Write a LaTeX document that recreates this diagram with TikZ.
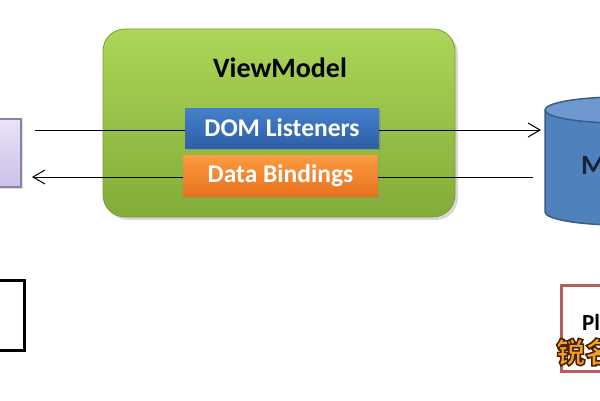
\documentclass[tikz,border=0pt]{standalone}
\usepackage{fontspec}
\setmainfont{Carlito}
\newfontfamily\cjkfont{Noto Sans CJK SC}
\usetikzlibrary{arrows.meta,shadows,positioning}
\definecolor{vmtop}{HTML}{ABD657}
\definecolor{vmbot}{HTML}{82AC38}
\definecolor{vmedge}{HTML}{7A9E36}
\definecolor{domtop}{HTML}{4580CC}
\definecolor{dombot}{HTML}{2E5FA6}
\definecolor{dbtop}{HTML}{FB9B42}
\definecolor{dbbot}{HTML}{E8721E}
\definecolor{viewtop}{HTML}{EAE3F5}
\definecolor{viewbot}{HTML}{CDBFEA}
\definecolor{viewedge}{HTML}{8B80A6}
\definecolor{cylfill}{HTML}{4F81BD}
\definecolor{cyltop}{HTML}{6E98CF}
\definecolor{cyledge}{HTML}{385D8A}
\definecolor{redge}{HTML}{B95F5B}
\definecolor{wmfill}{HTML}{F3A224}
\definecolor{modeltext}{HTML}{1A2238}
\tikzset{
  lbl/.style={font=\bfseries\fontsize{25.5}{30}\selectfont, text=white, inner sep=0pt},
  innerbox/.style={minimum width=194pt, minimum height=40pt, inner sep=0pt,
    drop shadow={opacity=0.35, shadow xshift=1.5pt, shadow yshift=-1.5pt}},
  conn/.style={line width=1pt, black},
  tip/.style={-{Straight Barb[length=12pt,width=14pt,line width=1pt]}},
}
\newcommand{\outlinetext}[1]{\special{pdf:code 2 Tr 1.6 w 0.29 0.13 0 RG}#1\special{pdf:code 0 Tr}}
\begin{document}
\begin{tikzpicture}[x=1pt,y=1pt]
\useasboundingbox (0,0) rectangle (600,400);
\clip (0,0) rectangle (600,400);
\fill[white] (0,0) rectangle (600,400);

% ViewModel container
\node (vm) [draw=vmedge, line width=0.8pt, rounded corners=22pt, top color=vmtop, bottom color=vmbot,
  minimum width=352pt, minimum height=188pt, inner sep=0pt,
  drop shadow={opacity=0.3, shadow xshift=3pt, shadow yshift=-3pt}] at (279,277) {};
\node (vmlabel) [font=\bfseries\fontsize{28}{32}\selectfont, text=black, inner sep=0pt] at (280,332) {ViewModel};

% inner boxes
\node (dom) [innerbox, top color=domtop, bottom color=dombot] at (282,272) {};
\node (domlabel) [lbl] at (282,272) {DOM Listeners};
\node (db) [innerbox, top color=dbtop, bottom color=dbbot, minimum height=41pt] at (280.5,224.5) {};
\node (dblabel) [lbl] at (280.5,224.5) {Data Bindings};

% View (left, lavender)
\node (view) [draw=viewedge, line width=1.2pt, top color=viewtop, bottom color=viewbot,
  minimum width=32pt, minimum height=68pt, inner sep=0pt,
  drop shadow={opacity=0.25, shadow xshift=2pt, shadow yshift=-2pt}] at (5,247) {};

% black box (left, lower)
\node (blk) [draw=black, line width=3pt, fill=white, minimum width=34pt, minimum height=70pt, inner sep=0pt] at (7,84.5) {};

% Model cylinder
\fill[cylfill] (545,290) -- (545,188) arc[start angle=180, end angle=360, x radius=75pt, y radius=13pt] -- (695,290) -- cycle;
\draw[cyledge, line width=1.5pt] (545,290) -- (545,188) arc[start angle=180, end angle=360, x radius=75pt, y radius=13pt] -- (695,290);
\draw[cyledge, line width=1.5pt, fill=cyltop] (620,290) ellipse[x radius=75pt, y radius=13pt];
\node (model) [anchor=west, font=\bfseries\fontsize{28}{32}\selectfont, text=modeltext, inner sep=0pt] at (581,235) {M};

% red box
\node (red) [draw=redge, line width=2.5pt, fill=white, minimum width=140pt, minimum height=86pt, inner sep=0pt, anchor=north west] at (560,116) {};
\node (pl) [anchor=west, font=\bfseries\fontsize{23}{27}\selectfont, text=black, inner sep=0pt] at (582,78) {Pl};

% connectors
\coordinate (vtop) at (35,270);
\coordinate (vbot) at (32,223);
\coordinate (mtop) at (541,270);
\coordinate (mbot) at (533,223);
\draw[conn] (dom.west |- vtop) -- (vtop);
\draw[conn, tip] (dom.east |- mtop) -- (mtop);
\draw[conn, tip] (db.west |- vbot) -- (vbot);
\draw[conn] (db.east |- mbot) -- (mbot);

% watermark
\node (wm) [anchor=west, font=\cjkfont\bfseries\fontsize{29}{32}\selectfont, text=wmfill, inner sep=0pt] at (556,48) {\outlinetext{锐名}};
\end{tikzpicture}
\end{document}
